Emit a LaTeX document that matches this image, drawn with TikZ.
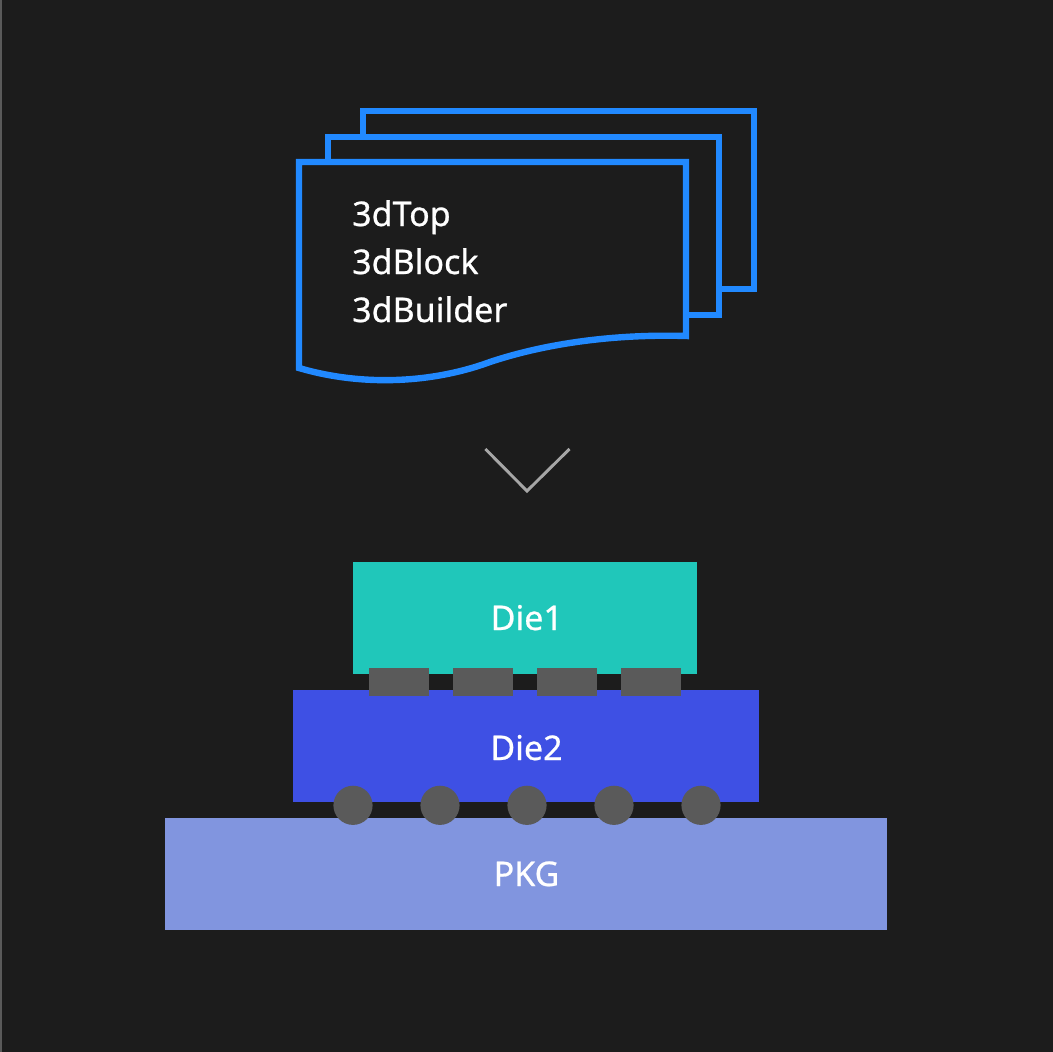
\documentclass[tikz,border=0pt]{standalone}
\usepackage{fontspec}
\setmainfont{Noto Sans}[FakeBold=0.7]
\definecolor{bgc}{HTML}{1C1C1C}
\definecolor{edgec}{HTML}{5A5A5A}
\definecolor{docblue}{HTML}{2189FF}
\definecolor{dieone}{HTML}{20C7BA}
\definecolor{dietwo}{HTML}{3E50E4}
\definecolor{pkgc}{HTML}{8195DF}
\definecolor{bumpc}{HTML}{5A5A5A}
\definecolor{chev}{HTML}{A6A6A6}
\tikzset{
  docsheet/.style={draw=docblue,line width=4.8pt,fill=bgc,miter limit=10},
  doctext/.style={text=white,anchor=base west,inner sep=0pt,font=\fontsize{25.5}{25.5}\selectfont},
  dielabel/.style={text=white,inner sep=0pt,anchor=base,font=\fontsize{25.5}{25.5}\selectfont},
  bump/.style={fill=bumpc,draw=none},
}
\begin{document}
\begin{tikzpicture}[x=0.75pt,y=-0.75pt]
\useasboundingbox (0,0) rectangle (1053,1052);
\fill[bgc] (0,0) rectangle (1053,1052);
\fill[edgec] (0,0) rectangle (1.5,1052);
% sheets
\draw[docsheet] (363,111) rectangle (754,289);
\draw[docsheet] (328,137) rectangle (719,315);
\draw[docsheet] (299,162) -- (686,162) -- (686,336)
  .. controls (620,334) and (550,342) .. (490,362)
  .. controls (430,384) and (360,386) .. (299,368) -- cycle;
\node[doctext] (t1) at (352,226) {3dTop};
\node[doctext] (t2) at (352,274) {3dBlock};
\node[doctext] (t3) at (352,322) {3dBuilder};
% chevron
\draw[chev,line width=2.2pt] (485.4,449) -- (527,491) -- (569.5,449);
% dies
\fill[dieone] (353.2,562) rectangle (697.2,674);
\fill[dietwo] (293.2,690) rectangle (759.2,802);
\fill[pkgc] (165.2,818) rectangle (887.2,930);
\node[dielabel] (die1) at (526.8,630) {Die1};
\node[dielabel] (die2) at (526.5,760) {Die2};
\node[dielabel] (pkg) at (526.5,886) {PKG};
% micro bumps
\foreach \x in {369.2,453.2,537.2,621.2}
  \fill[bump] (\x,668) rectangle (\x+60,696);
% balls
\foreach \x in {353,440,527,614,701}
  \fill[bump] (\x,805.3) circle[radius=14.7pt];
\end{tikzpicture}
\end{document}
